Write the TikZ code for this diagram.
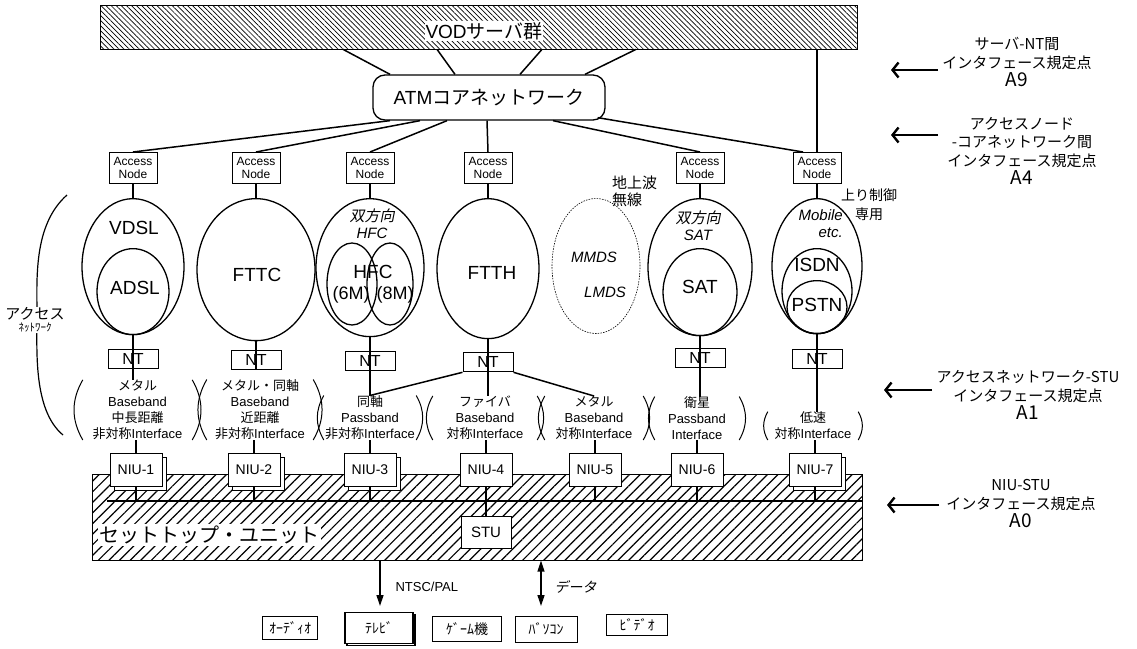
\documentclass[tikz,border=0pt]{standalone}
\usepackage{fontspec}
\setmainfont{Liberation Sans}
\newfontfamily\jp{Noto Sans CJK JP}
\newfontfamily\jpit[FakeSlant=0.2]{Noto Sans CJK JP}
\usetikzlibrary{shapes.geometric, arrows.meta, positioning, calc, patterns.meta, shadows}

\begin{document}
\begin{tikzpicture}[
    x=1pt, y=-1pt,
    % Node styles
    serverbar/.style={
        draw, line width=1pt, inner sep=0pt,
        minimum width=757pt, minimum height=44pt,
        pattern={Lines[angle=-45, distance=3.6pt, line width=0.7pt]}
    },
    core/.style={
        draw, line width=1.3pt, rounded corners=12pt,
        minimum width=232pt, minimum height=45pt,
        font=\fontsize{19}{19}\selectfont
    },
    accessnode/.style={
        draw, line width=1pt, inner sep=1pt, align=center,
        minimum width=48pt, minimum height=31pt,
        font=\fontsize{12}{13}\selectfont
    },
    net/.style={ellipse, draw, line width=1.3pt, inner sep=0pt},
    bigtext/.style={font=\fontsize{19}{19}\selectfont, inner sep=0pt},
    ittext/.style={font=\itshape\fontsize{15}{17}\selectfont, align=center, inner sep=0pt},
    ntbox/.style={
        draw, line width=1pt, inner sep=0pt,
        minimum width=50pt, minimum height=19pt,
        font=\fontsize{16}{16}\selectfont
    },
    iflabel/.style={
        align=center, inner sep=0pt, anchor=south,
        font=\fontsize{13}{16}\selectfont
    },
    paren/.style={line width=1pt},
    niu/.style={
        draw, fill=white, line width=1pt, inner sep=0pt,
        minimum width=52pt, minimum height=33pt,
        font=\fontsize{14}{14}\selectfont
    },
    niustack/.style={niu, copy shadow={shadow xshift=4pt, shadow yshift=-4pt}},
    settop/.style={
        draw, line width=1pt, inner sep=0pt,
        minimum width=770pt, minimum height=86pt,
        pattern={Lines[angle=45, distance=7.5pt, line width=1.2pt]}
    },
    device/.style={
        draw, line width=0.8pt, fill=white, inner sep=0pt,
        font=\jp\fontsize{14}{14}\selectfont
    },
    sidetext/.style={align=center, font=\jp\fontsize{15}{18.5}\selectfont},
    link/.style={line width=1.5pt},
    sidearrow/.style={line width=2.4pt, -{Straight Barb[length=6pt, width=15pt]}},
    outarrow/.style={line width=1.3pt, -{Triangle[length=11pt, width=7pt]}},
    dataarrow/.style={line width=1.3pt, {Triangle[length=11pt, width=7pt]}-{Triangle[length=11pt, width=7pt]}}
]
\useasboundingbox (0,0) rectangle (1137,648);

% --- Server bar and core network ---
\node[serverbar] (vod) at (478.5,27) {};
\node[fill=white, inner sep=1pt, font=\fontsize{19}{19}\selectfont] (vodtxt) at (484,31) {VOD{\jp サーバ群}};
\node[core] (atm) at (489,97.5) {ATM{\jp コアネットワーク}};
\foreach \a/\b in {-135.5/-99, -41.5/-34, 63.5/31, 157.5/96}
    \draw[link] ([xshift=\a pt]vod.south) -- ([xshift=\b pt]atm.north);

% --- Access nodes ---
\foreach \n/\x in {1/133, 2/256, 3/370, 4/488, 6/700, 7/817}
    \node[accessnode] (an\n) at (\x,168) {Access\\Node};

\draw[link] ([xshift=-99pt]atm.south) -- (an1.north);
\draw[link] ([xshift=-69pt]atm.south) -- (an2.north);
\draw[link] ([xshift=-42pt]atm.south) -- (an3.north);
\draw[link] ([xshift=-2pt]atm.south) -- (an4.north);
\draw[link] ([xshift=64pt]atm.south) -- (an6.north);
\draw[link] ([xshift=-8pt, yshift=3pt]atm.south east) -- ([xshift=-14pt]an7.north);
\draw[link] (vod.south -| an7.north) -- (an7.north);

% --- Access networks ---
\node[net, minimum width=102pt, minimum height=136pt, below=14pt of an1] (vdsl) {};
\node[net, minimum width=72pt, minimum height=86pt, anchor=south] (adsl) at (vdsl.south) {};
\node[bigtext] (vdsltxt) at (134,228) {VDSL};
\node[bigtext] (adsltxt) at (135,288) {ADSL};

\node[net, minimum width=118pt, minimum height=142pt, below=14pt of an2] (fttc) {};
\node[bigtext] (fttctxt) at (257,275) {FTTC};

\node[net, minimum width=108pt, minimum height=138pt, below=14pt of an3] (hfc) {};
\node[net, minimum width=50pt, minimum height=82pt] (hfc6) at (352,284) {};
\node[net, minimum width=46pt, minimum height=82pt] (hfc8) at (390,284) {};
\node[ittext] (hfcup) at (372,224) {{\jpit 双方向}\\HFC};
\node[bigtext] (hfctxt) at (373,272) {HFC};
\node[bigtext, font=\fontsize{18}{18}\selectfont] (m6) at (351,295) {(6M)};
\node[bigtext, font=\fontsize{18}{18}\selectfont] (m8) at (395,295) {(8M)};

\node[net, minimum width=102pt, minimum height=140pt, below=14pt of an4] (ftth) {};
\node[bigtext] (ftthtxt) at (492,273) {FTTH};

\node[ellipse, draw, line width=0.6pt, dash pattern=on 1.5pt off 1.2pt, inner sep=0pt,
      minimum width=88pt, minimum height=135pt] (mmds) at (596,266) {};
\node[ittext] (mmdstxt) at (594,257) {MMDS};
\node[ittext] (lmdstxt) at (605,292) {LMDS};
\node[align=left, anchor=west, inner sep=0pt, font=\jp\fontsize{15}{17}\selectfont] (terr) at (612,191) {地上波\\無線};

\node[net, minimum width=104pt, minimum height=137pt, below=14pt of an6] (sat) {};
\node[net, minimum width=74pt, minimum height=87pt, anchor=south] (satin) at (sat.south) {};
\node[ittext] (satup) at (698,226) {{\jpit 双方向}\\SAT};
\node[bigtext] (sattxt) at (700,287) {SAT};

\node[net, minimum width=90pt, minimum height=135pt, below=14pt of an7] (mob) {};
\node[net, minimum width=70pt, minimum height=85pt, anchor=south] (isdn) at (mob.south) {};
\node[net, minimum width=60pt, minimum height=53pt, anchor=south] (pstn) at (mob.south) {};
\node[ittext, align=right, anchor=north east] (mobtxt) at (843,209) {Mobile\\etc.};
\node[bigtext] (isdntxt) at (817,265) {ISDN};
\node[bigtext] (pstntxt) at (817,305) {PSTN};
\node[align=center, inner sep=0pt, font=\jp\fontsize{14}{19}\selectfont] (upctl) at (869,205) {上り制御\\専用};

% --- Network terminations ---
\node[ntbox, below=14pt of vdsl] (nt1) {NT};
\node[ntbox, below=9pt of fttc] (nt2) {NT};
\node[ntbox, below=14pt of hfc] (nt3) {NT};
\node[ntbox, below=13pt of ftth] (nt4) {NT};
\node[ntbox, below=12pt of sat] (nt6) {NT};
\node[ntbox, below=15pt of mob] (nt7) {NT};

\draw[link] (an1.south) -- (vdsl.north);
\draw[link] (an2.south) -- (fttc.north);
\draw[link] (an3.south) -- (hfc.north);
\draw[link] (an4.south) -- (ftth.north);
\draw[link] (an6.south) -- (sat.north);
\draw[link] (an7.south) -- (mob.north);

% --- Interface labels ---
\node[iflabel, minimum width=109pt] (if1) at (137.5,440) {{\jp メタル}\\Baseband\\{\jp 中長距離}\\{\jp 非対称}Interface};
\node[iflabel, minimum width=106pt] (if2) at (260,440) {{\jp メタル・同軸}\\Baseband\\{\jp 近距離}\\{\jp 非対称}Interface};
\node[iflabel, minimum width=92pt] (if3) at (370,440) {{\jp 同軸}\\Passband\\{\jp 非対称}Interface};
\node[iflabel, minimum width=104pt] (if4) at (485,440) {{\jp ファイバ}\\Baseband\\{\jp 対称}Interface};
\node[iflabel, minimum width=98pt] (if5) at (594,440) {{\jp メタル}\\Baseband\\{\jp 対称}Interface};
\node[iflabel, minimum width=84pt] (if6) at (697,440) {{\jp 衛星}\\Passband\\Interface};
\node[iflabel, minimum width=90pt] (if7) at (813,440) {{\jp 低速}\\{\jp 対称}Interface};

\foreach \n in {1,...,7} {
    \draw[paren] (if\n.north west) to[bend right=30] (if\n.south west);
    \draw[paren] (if\n.north east) to[bend left=30] (if\n.south east);
}

\draw[link] (vdsl.south) -- (if1.north -| vdsl.south);
\draw[link] (fttc.south) -- (nt2.south);
\draw[link] (hfc.south) -- (if3.north);
\draw[link] (ftth.south) -- (if4.north -| ftth.south);
\draw[link] (nt4.south west) -- (if3.north);
\draw[link] (nt4.south east) -- (if5.north);
\draw[link] (sat.south) -- (if6.north -| sat.south);
\draw[link] (mob.south) -- (if7.north -| mob.south);

% --- Set-top unit ---
\node[settop] (stbox) at (477,517) {};
\coordinate (busL) at (107,501);
\draw[line width=1.2pt] (busL) -- (busL -| stbox.east);
\node[fill=white, inner sep=1.5pt, anchor=west, font=\jp\fontsize{20}{20}\selectfont] (sttxt) at (98,535) {セットトップ・ユニット};

\foreach \n/\x in {1/136, 2/254, 3/370, 7/815}
    \node[niustack] (niu\n) at (\x,470) {NIU-\n};
\foreach \n/\x in {4/486, 5/595, 6/697}
    \node[niu] (niu\n) at (\x,470) {NIU-\n};

\node[niu, minimum width=50pt, minimum height=32pt, font=\fontsize{15}{15}\selectfont, below=29pt of niu4] (stu) {STU};

\foreach \n in {1,...,7} {
    \draw[link] (niu\n.north |- if\n.south) -- (niu\n.north);
    \draw[link] (niu\n.south) -- (niu\n.south |- busL);
}
\draw[link] (niu4.south) -- (stu.north);

% --- Outputs to terminals ---
\coordinate (tvtip) at (380,606);
\coordinate (datatip) at (541,606);
\draw[outarrow] (stbox.south -| tvtip) -- (tvtip);
\draw[dataarrow] (stbox.south -| datatip) -- (datatip);
\node[anchor=west, font=\fontsize{13}{13}\selectfont] (ntsc) at (392,587) {NTSC/PAL};
\node[anchor=west, font=\jpit\fontsize{14}{14}\selectfont] (data) at (551,587) {データ};

\node[device, minimum width=55pt, minimum height=23pt] (audio) at (290,628) {ｵｰﾃﾞｨｵ};
\node[device, line width=1.6pt, minimum width=68pt, minimum height=31pt,
      copy shadow={shadow xshift=2pt, shadow yshift=-2pt}] (tv) at (379,628) {ﾃﾚﾋﾞ};
\node[device, minimum width=69pt, minimum height=25pt] (game) at (467,629) {ｹﾞｰﾑ機};
\node[device, minimum width=62pt, minimum height=26pt] (pc) at (546,629) {ﾊﾞｿｺﾝ};
\node[device, minimum width=61pt, minimum height=21pt] (video) at (637,625) {ﾋﾞﾃﾞｵ};

% --- Left brace ---
\draw[paren, line width=1.2pt] (67,195) .. controls (33,225) and (37,280) .. (37,315)
    .. controls (37,350) and (33,410) .. (63,435);
\node[fill=white, inner sep=1pt, align=center] (accnet) at (35,320)
    {{\jp\fontsize{15}{16}\selectfont アクセス}\\{\jp\fontsize{11}{12}\selectfont ﾈｯﾄﾜｰｸ}};

% --- Interface reference points ---
\node[sidetext] (a9txt) at (1017,62) {サーバ-NT間\\インタフェース規定点\\{\fontsize{19}{19}\selectfont A9}};
\node[sidetext] (a4txt) at (1022,151) {アクセスノード\\-コアネットワーク間\\インタフェース規定点\\{\fontsize{19}{19}\selectfont A4}};
\node[sidetext] (a1txt) at (1028,395) {アクセスネットワーク-STU\\インタフェース規定点\\{\fontsize{19}{19}\selectfont A1}};
\node[sidetext] (a0txt) at (1021,504) {NIU-STU\\インタフェース規定点\\{\fontsize{19}{19}\selectfont A0}};

\coordinate (a9tail) at (938,70);   \coordinate (a9tip) at (891,70);
\coordinate (a4tail) at (938,135);  \coordinate (a4tip) at (891,135);
\coordinate (a1tail) at (932,390);  \coordinate (a1tip) at (884,390);
\coordinate (a0tail) at (939,505);  \coordinate (a0tip) at (887,505);
\foreach \p in {a9, a4, a1, a0}
    \draw[sidearrow] (\p tail) -- (\p tip);

\end{tikzpicture}
\end{document}
